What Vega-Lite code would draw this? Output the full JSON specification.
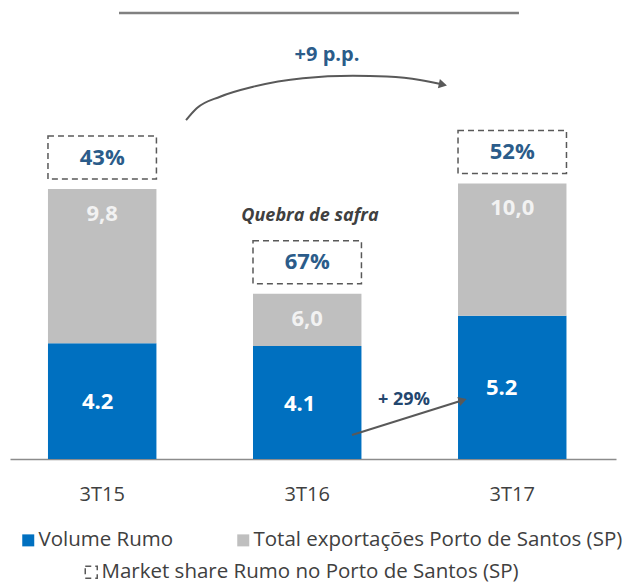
{
  "$schema": "https://vega.github.io/schema/vega-lite/v6.json",
  "width": 627,
  "height": 459,
  "autosize": "none",
  "padding": {"left": 0, "top": 0, "right": 0, "bottom": 126},
  "background": "white",
  "config": {"view": {"stroke": null}, "font": "Open Sans"},
  "datasets": {
    "barras": [
      {"periodo": "3T15", "volume": 4.2, "total": 9.8, "total_rotulo": "9,8", "share": 0.43, "indicador": "Market share Rumo no Porto de Santos (SP)"},
      {"periodo": "3T16", "volume": 4.1, "total": 6.0, "total_rotulo": "6,0", "share": 0.67, "indicador": "Market share Rumo no Porto de Santos (SP)"},
      {"periodo": "3T17", "volume": 5.2, "total": 10.0, "total_rotulo": "10,0", "share": 0.52, "indicador": "Market share Rumo no Porto de Santos (SP)"}
    ],
    "curva": [
      {"u": 0.410, "v": 12.30},
      {"u": 0.462, "v": 12.73},
      {"u": 0.576, "v": 13.15},
      {"u": 0.737, "v": 13.51},
      {"u": 0.980, "v": 13.82},
      {"u": 1.224, "v": 13.91},
      {"u": 1.389, "v": 13.88},
      {"u": 1.551, "v": 13.76},
      {"u": 1.663, "v": 13.59}
    ]
  },
  "resolve": {"scale": {"x": "independent", "y": "independent"}},
  "layer": [
    {
      "data": {"name": "barras"},
      "encoding": {
        "x": {
          "field": "periodo",
          "type": "nominal",
          "sort": null,
          "scale": {"range": [10, 616], "paddingInner": 0.471, "paddingOuter": 0.2134, "align": 0.434},
          "axis": {
            "title": null,
            "ticks": false,
            "grid": false,
            "labelAngle": 0,
            "labelFont": "Open Sans",
            "labelFontSize": 20,
            "labelColor": "#404040",
            "labelPadding": 25,
            "domainColor": "#8C8C8C",
            "domainWidth": 1.5
          }
        }
      },
      "layer": [
        {
          "mark": {"type": "bar"},
          "encoding": {
            "y": {"field": "volume", "type": "quantitative", "scale": {"domain": [0, 16.66], "nice": false, "zero": false}, "axis": null},
            "color": {
              "datum": "Volume Rumo",
              "scale": {"domain": ["Volume Rumo", "Total exportações Porto de Santos (SP)"], "range": ["#0070C0", "#BFBFBF"]},
              "legend": {
                "orient": "none",
                "legendX": 18,
                "legendY": 530,
                "direction": "horizontal",
                "title": null,
                "symbolType": "square",
                "symbolSize": 144,
                "symbolStrokeWidth": 0,
                "labelFont": "Open Sans",
                "labelFontSize": 20.5,
                "labelColor": "#404040",
                "labelOffset": 0,
                "labelLimit": 600,
                "columnPadding": 59
              }
            }
          }
        },
        {
          "mark": {"type": "bar"},
          "encoding": {
            "y": {"field": "volume", "type": "quantitative", "axis": null},
            "y2": {"field": "total"},
            "color": {"datum": "Total exportações Porto de Santos (SP)"}
          }
        },
        {
          "mark": {"type": "bar", "fill": "white", "stroke": "#595959", "strokeWidth": 1.5, "yOffset": -10, "y2Offset": -53},
          "encoding": {
            "y": {"field": "total", "type": "quantitative", "axis": null},
            "y2": {"field": "total"},
            "strokeDash": {
              "field": "indicador",
              "type": "nominal",
              "scale": {"range": [[6, 4]]},
              "legend": {
                "orient": "none",
                "legendX": 81,
                "legendY": 562,
                "title": null,
                "symbolType": "square",
                "symbolSize": 144,
                "labelFont": "Open Sans",
                "labelFontSize": 20.5,
                "labelColor": "#404040",
                "labelOffset": 0,
                "labelLimit": 600,
                "encode": {
                  "symbols": {
                    "update": {
                      "fill": {"value": "white"},
                      "stroke": {"value": "#595959"},
                      "strokeWidth": {"value": 1.5},
                      "strokeDash": {"value": [3, 2]},
                      "opacity": {"value": 1}
                    }
                  }
                }
              }
            }
          }
        },
        {
          "mark": {"type": "text", "font": "Open Sans", "fontSize": 22, "fontWeight": "bold", "color": "#2B5C8A", "baseline": "middle", "dy": -31.5},
          "encoding": {
            "y": {"field": "total", "type": "quantitative", "axis": null},
            "text": {"field": "share", "type": "quantitative", "format": ".0%"}
          }
        },
        {
          "mark": {"type": "text", "font": "Open Sans", "fontSize": 22, "fontWeight": "bold", "color": "#F2F2F2", "baseline": "middle", "dy": 25},
          "encoding": {
            "y": {"field": "total", "type": "quantitative", "axis": null},
            "text": {"field": "total_rotulo", "type": "nominal"}
          }
        }
      ]
    },
    {
      "data": {"name": "barras"},
      "mark": {"type": "text", "font": "Open Sans", "fontSize": 22, "fontWeight": "bold", "color": "white", "baseline": "middle", "dy": 1},
      "encoding": {
        "x": {
          "field": "periodo",
          "type": "nominal",
          "sort": null,
          "scale": {"range": [10, 616], "paddingInner": 0.471, "paddingOuter": 0.2134, "align": 0.434},
          "axis": null
        },
        "y": {"field": "volume", "type": "quantitative", "scale": {"domain": [0, 33.32], "nice": false, "zero": false}, "axis": null},
        "text": {"field": "volume", "type": "quantitative", "format": ".1f"}
      }
    },
    {
      "layer": [
        {
          "data": {"name": "curva"},
          "mark": {"type": "line", "interpolate": "monotone", "color": "#595959", "strokeWidth": 2},
          "encoding": {
            "x": {"field": "u", "type": "quantitative", "scale": {"domain": [-0.4976, 2.561], "nice": false, "zero": false}, "axis": null},
            "y": {"field": "v", "type": "quantitative", "scale": {"domain": [0, 16.66], "nice": false, "zero": false}, "axis": null}
          }
        },
        {
          "data": {"values": [{"u": 1.663, "v": 13.59}]},
          "mark": {"type": "point", "shape": "triangle-right", "filled": true, "color": "#595959", "size": 90, "angle": 12, "opacity": 1},
          "encoding": {
            "x": {"field": "u", "type": "quantitative"},
            "y": {"field": "v", "type": "quantitative"}
          }
        },
        {
          "data": {"values": [{"u": 1.2195, "v": 0.871, "u2": 1.7595, "v2": 2.131}]},
          "mark": {"type": "rule", "color": "#595959", "strokeWidth": 2},
          "encoding": {
            "x": {"field": "u", "type": "quantitative"},
            "x2": {"field": "u2"},
            "y": {"field": "v", "type": "quantitative"},
            "y2": {"field": "v2"}
          }
        },
        {
          "data": {"values": [{"u": 1.7595, "v": 2.131}]},
          "mark": {"type": "point", "shape": "triangle-right", "filled": true, "color": "#595959", "size": 90, "angle": 342.6, "opacity": 1},
          "encoding": {
            "x": {"field": "u", "type": "quantitative"},
            "y": {"field": "v", "type": "quantitative"}
          }
        },
        {
          "data": {"values": [{"u": 0.0829, "u2": 2.034, "v": 16.19}]},
          "mark": {"type": "rule", "color": "#808080", "strokeWidth": 2.5},
          "encoding": {
            "x": {"field": "u", "type": "quantitative"},
            "x2": {"field": "u2"},
            "y": {"field": "v", "type": "quantitative"}
          }
        },
        {
          "data": {"values": [{"u": 1.078, "v": 16.78, "texto": "(Milhões de toneladas)"}]},
          "mark": {"type": "text", "font": "Open Sans", "fontSize": 17, "color": "#595959", "baseline": "alphabetic", "clip": false},
          "encoding": {
            "x": {"field": "u", "type": "quantitative"},
            "y": {"field": "v", "type": "quantitative"},
            "text": {"field": "texto", "type": "nominal"}
          }
        },
        {
          "data": {"values": [{"u": 1.0976, "v": 14.66, "texto": "+9 p.p."}]},
          "mark": {"type": "text", "font": "Open Sans", "fontSize": 20, "fontWeight": "bold", "color": "#2B5C8A", "baseline": "middle"},
          "encoding": {
            "x": {"field": "u", "type": "quantitative"},
            "y": {"field": "v", "type": "quantitative"},
            "text": {"field": "texto", "type": "nominal"}
          }
        },
        {
          "data": {"values": [{"u": 1.473, "v": 2.14, "texto": "+ 29%"}]},
          "mark": {"type": "text", "font": "Open Sans", "fontSize": 18, "fontWeight": "bold", "color": "#23466E", "baseline": "middle"},
          "encoding": {
            "x": {"field": "u", "type": "quantitative"},
            "y": {"field": "v", "type": "quantitative"},
            "text": {"field": "texto", "type": "nominal"}
          }
        },
        {
          "data": {"values": [{"u": 1.0146, "v": 8.82, "texto": "Quebra de safra"}]},
          "mark": {"type": "text", "font": "Open Sans", "fontSize": 18, "fontWeight": "bold", "fontStyle": "italic", "color": "#404040", "baseline": "middle"},
          "encoding": {
            "x": {"field": "u", "type": "quantitative"},
            "y": {"field": "v", "type": "quantitative"},
            "text": {"field": "texto", "type": "nominal"}
          }
        }
      ]
    }
  ]
}
